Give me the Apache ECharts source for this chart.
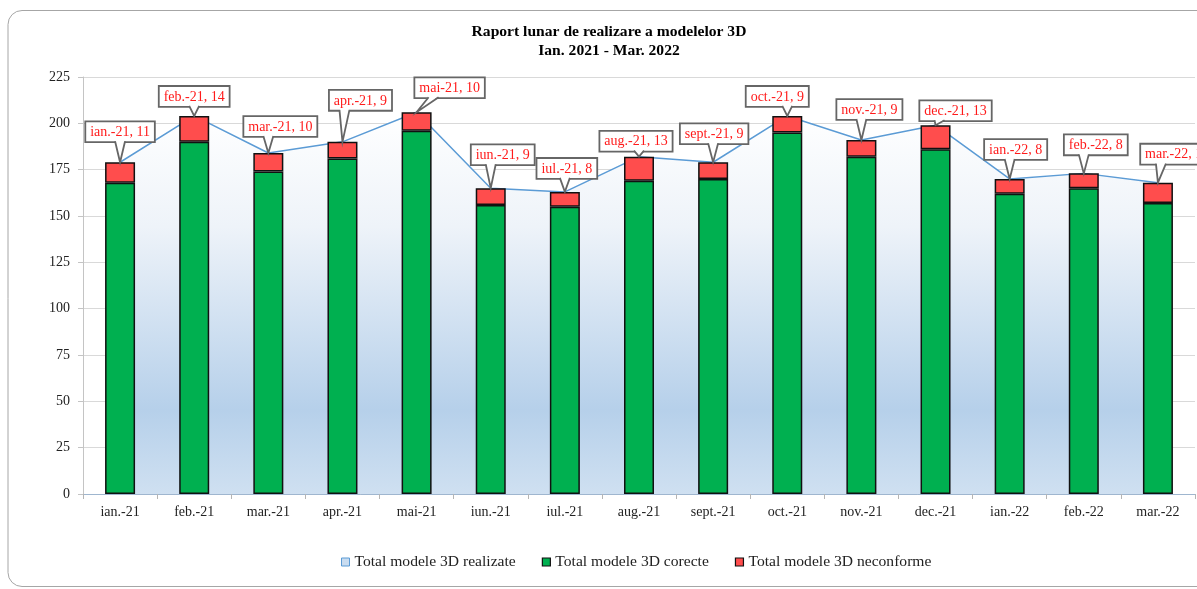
<!DOCTYPE html>
<html>
<head>
<meta charset="utf-8">
<title>Raport lunar de realizare a modelelor 3D</title>
<script src="https://cdn.jsdelivr.net/npm/echarts@6/dist/echarts.min.js"></script>
<style>
  html, body { margin: 0; padding: 0; background: #ffffff; }
  #chart { width: 1197px; height: 589px; }
</style>
</head>
<body>
<div id="chart"></div>
<script>
// Months of the report
const categories = ['ian.-21', 'feb.-21', 'mar.-21', 'apr.-21', 'mai-21', 'iun.-21', 'iul.-21',
  'aug.-21', 'sept.-21', 'oct.-21', 'nov.-21', 'dec.-21', 'ian.-22', 'feb.-22', 'mar.-22'];

// Models produced per month
const totalRealizate = [179, 204, 184, 190, 206, 165, 163, 182, 179, 204, 191, 199, 170, 173, 168];
const corecte = [168, 190, 174, 181, 196, 156, 155, 169, 170, 195, 182, 186, 162, 165, 157];
const neconforme = [11, 14, 10, 9, 10, 9, 8, 13, 9, 9, 9, 13, 8, 8, 11];

// Value axis ticks
const yMin = 0, yMax = 225, yStep = 25;

// Callout box placement relative to the top of each stack: [dx of box centre, dy of box bottom]
const calloutShift = [[0, -21], [0, -10], [12, -17], [18, -32], [33, -15], [12, -24], [2, -14],
  [-3, -6], [1, -19], [-10, -10], [8, -21], [20, -5], [6, -20], [12, -19], [19, -19]];

const FONT = '"Liberation Serif", "Times New Roman", serif';

const chart = echarts.init(document.getElementById('chart'), null, { renderer: 'canvas' });

const calloutData = categories.map((c, i) => [i, totalRealizate[i], neconforme[i]]);

function renderCallout(params, api) {
  const idx = api.value(0);
  const pt = api.coord([idx, api.value(1)]);
  const sh = calloutShift[idx];
  const cx = pt[0] + sh[0];
  const by = pt[1] + sh[1];
  const baseC = Math.max(cx - 16, Math.min(cx + 16, pt[0]));
  const bL = baseC - 5, bR = baseC + 5;
  const border = '#666666';
  return {
    type: 'group',
    children: [
      {
        type: 'text',
        z2: 1,
        style: {
          text: categories[idx] + ', ' + api.value(2),
          x: cx,
          y: by,
          align: 'center',
          verticalAlign: 'bottom',
          fill: '#ff1a1a',
          font: '14px ' + FONT,
          backgroundColor: '#ffffff',
          borderColor: border,
          borderWidth: 1.8,
          padding: [3, 4, 2, 4]
        }
      },
      {
        type: 'polygon',
        z2: 2,
        shape: { points: [[bL, by - 1], [bR, by - 1], [pt[0], pt[1]]] },
        style: { fill: '#ffffff', stroke: null }
      },
      {
        type: 'polyline',
        z2: 3,
        shape: { points: [[bL, by], [pt[0], pt[1]], [bR, by]] },
        style: { stroke: border, lineWidth: 1.8, fill: null }
      }
    ]
  };
}

const option = {
  animation: false,
  backgroundColor: '#ffffff',
  textStyle: { fontFamily: FONT },
  graphic: [{
    type: 'rect',
    silent: true,
    z: -10,
    shape: { x: 8, y: 10.5, width: 1230, height: 576, r: 14 },
    style: { fill: null, stroke: '#a6a6a6', lineWidth: 1 }
  }],
  title: {
    text: 'Raport lunar de realizare a modelelor 3D\nIan. 2021 - Mar. 2022',
    left: 604,
    top: 17,
    textAlign: 'center',
    textVerticalAlign: 'top',
    textStyle: {
      fontFamily: FONT,
      fontSize: 15.6,
      fontWeight: 'bold',
      color: '#000000',
      lineHeight: 19
    }
  },
  legend: {
    left: 336,
    top: 549,
    itemWidth: 8,
    itemHeight: 8,
    itemGap: 26,
    textStyle: { fontFamily: FONT, fontSize: 15.6, color: '#222222' },
    data: [
      { name: 'Total modele 3D realizate', icon: 'rect',
        itemStyle: { color: '#c9dcf0', borderColor: '#5b9bd5', borderWidth: 1 },
        lineStyle: { opacity: 0 } },
      { name: 'Total modele 3D corecte', icon: 'rect',
        itemStyle: { color: '#00b050', borderColor: '#111111', borderWidth: 1.2 } },
      { name: 'Total modele 3D neconforme', icon: 'rect',
        itemStyle: { color: '#ff4d4d', borderColor: '#111111', borderWidth: 1.2 } }
    ]
  },
  grid: { left: 83, right: 2, top: 77, bottom: 95, containLabel: false },
  xAxis: {
    type: 'category',
    data: categories,
    boundaryGap: true,
    axisLine: { show: true, lineStyle: { color: '#9fb6cf', width: 1 } },
    axisTick: { show: true, length: 5, lineStyle: { color: '#b5b5b5' } },
    axisLabel: { fontFamily: FONT, fontSize: 14, color: '#222222', margin: 11, interval: 0 },
    splitLine: { show: false }
  },
  yAxis: {
    type: 'value',
    min: yMin,
    max: yMax,
    interval: yStep,
    axisLine: { show: true, lineStyle: { color: '#c4c4c4' } },
    axisTick: { show: true, length: 5, lineStyle: { color: '#c4c4c4' } },
    axisLabel: { fontFamily: FONT, fontSize: 14, color: '#222222', margin: 13 },
    splitLine: { show: true, lineStyle: { color: '#d9d9d9', width: 1 } }
  },
  series: [
    {
      name: 'Total modele 3D realizate',
      type: 'line',
      data: totalRealizate,
      z: 1,
      symbol: 'none',
      showSymbol: false,
      lineStyle: { color: '#5b9bd5', width: 1.5 },
      itemStyle: { color: '#5b9bd5' },
      areaStyle: {
        color: new echarts.graphic.LinearGradient(0, 0, 0, 1, [
          { offset: 0, color: '#ffffff' },
          { offset: 0.3, color: '#eef3f9' },
          { offset: 0.78, color: '#b6d0ea' },
          { offset: 1, color: '#cfe0f1' }
        ]),
        opacity: 1
      },
      emphasis: { disabled: true }
    },
    {
      name: 'Total modele 3D corecte',
      type: 'bar',
      stack: 'modele',
      data: corecte,
      z: 3,
      barWidth: 30,
      itemStyle: { color: '#00b050', borderColor: '#111111', borderWidth: 1.5 },
      emphasis: { disabled: true }
    },
    {
      name: 'Total modele 3D neconforme',
      type: 'bar',
      stack: 'modele',
      data: neconforme,
      z: 3,
      barWidth: 30,
      itemStyle: { color: '#ff4d4d', borderColor: '#111111', borderWidth: 1.5 },
      emphasis: { disabled: true }
    },
    {
      name: 'callouts',
      type: 'custom',
      data: calloutData,
      z: 10,
      clip: false,
      silent: true,
      renderItem: renderCallout
    }
  ]
};

chart.setOption(option);
</script>
</body>
</html>
